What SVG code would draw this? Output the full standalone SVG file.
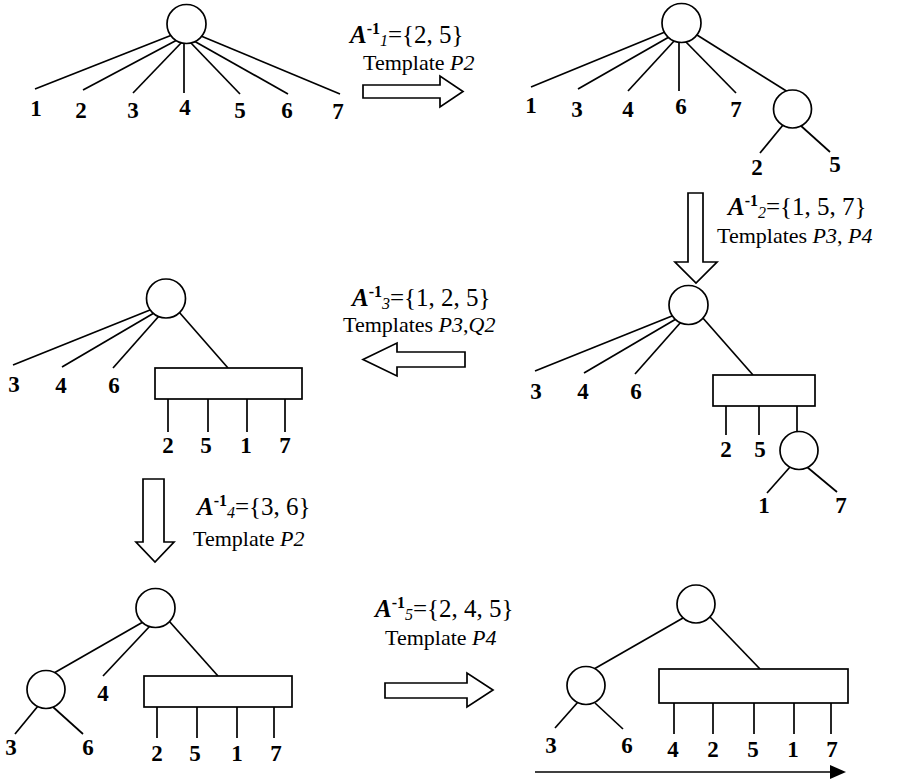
<svg xmlns="http://www.w3.org/2000/svg" width="901" height="781" viewBox="0 0 901 781">
<style>
.n{fill:#fff;stroke:#000;stroke-width:1.7}
.e{stroke:#000;stroke-width:1.7;fill:none}
.d{font-family:"Liberation Serif",serif;font-weight:bold;font-size:23px;text-anchor:middle;fill:#000}
.t{font-family:"Liberation Serif",serif;font-size:22px;fill:#000}
.q{font-family:"Liberation Serif",serif;font-size:25px;fill:#000}
.bi{font-weight:bold;font-style:italic}
.sp{font-weight:bold;font-size:16px}
.sb{font-style:italic;font-size:16px}
.i{font-style:italic}
.ar{fill:#fff;stroke:#000;stroke-width:1.7}
</style>
<rect width="901" height="781" fill="#fff"/>
<g id="connectors">
<line class="e" x1="172" y1="35" x2="35" y2="89"/>
<line class="e" x1="177" y1="40" x2="83" y2="90"/>
<line class="e" x1="182" y1="42" x2="133" y2="93"/>
<line class="e" x1="184" y1="42" x2="184" y2="93"/>
<line class="e" x1="190" y1="42" x2="240" y2="94"/>
<line class="e" x1="194" y1="41" x2="288" y2="94"/>
<line class="e" x1="201" y1="36" x2="340" y2="94"/>
<line class="e" x1="665" y1="32" x2="531" y2="87"/>
<line class="e" x1="669" y1="37" x2="578" y2="89"/>
<line class="e" x1="675" y1="40" x2="628" y2="91"/>
<line class="e" x1="679" y1="41" x2="679" y2="91"/>
<line class="e" x1="685" y1="41" x2="736" y2="93"/>
<line class="e" x1="697" y1="35" x2="788" y2="92"/>
<line class="e" x1="783" y1="125" x2="760" y2="153"/>
<line class="e" x1="800" y1="125" x2="830" y2="152"/>
<line class="e" x1="150" y1="310" x2="13" y2="365"/>
<line class="e" x1="154" y1="313" x2="62" y2="367"/>
<line class="e" x1="159" y1="316" x2="113" y2="368"/>
<line class="e" x1="179" y1="312" x2="228" y2="368"/>
<line class="e" x1="168" y1="399" x2="168" y2="432"/>
<line class="e" x1="208" y1="399" x2="208" y2="432"/>
<line class="e" x1="247" y1="399" x2="247" y2="432"/>
<line class="e" x1="285" y1="399" x2="285" y2="432"/>
<line class="e" x1="672" y1="316" x2="535" y2="371"/>
<line class="e" x1="676" y1="319" x2="584" y2="373"/>
<line class="e" x1="681" y1="322" x2="635" y2="374"/>
<line class="e" x1="702" y1="317" x2="753" y2="375"/>
<line class="e" x1="726" y1="406" x2="726" y2="435"/>
<line class="e" x1="759" y1="406" x2="759" y2="435"/>
<line class="e" x1="797" y1="406" x2="797" y2="434"/>
<line class="e" x1="790" y1="467" x2="767" y2="493"/>
<line class="e" x1="807" y1="467" x2="837" y2="492"/>
<line class="e" x1="143" y1="622" x2="54" y2="673"/>
<line class="e" x1="150" y1="626" x2="103" y2="676"/>
<line class="e" x1="169" y1="621" x2="218" y2="676"/>
<line class="e" x1="157" y1="707" x2="157" y2="738"/>
<line class="e" x1="197" y1="707" x2="197" y2="738"/>
<line class="e" x1="237" y1="707" x2="237" y2="738"/>
<line class="e" x1="274" y1="707" x2="274" y2="738"/>
<line class="e" x1="38" y1="706" x2="15" y2="734"/>
<line class="e" x1="53" y1="707" x2="83" y2="734"/>
<line class="e" x1="683" y1="618" x2="594" y2="669"/>
<line class="e" x1="710" y1="617" x2="760" y2="669"/>
<line class="e" x1="674" y1="703" x2="674" y2="734"/>
<line class="e" x1="713" y1="703" x2="713" y2="734"/>
<line class="e" x1="754" y1="703" x2="754" y2="734"/>
<line class="e" x1="794" y1="703" x2="794" y2="734"/>
<line class="e" x1="831" y1="703" x2="831" y2="734"/>
<line class="e" x1="578" y1="702" x2="555" y2="728"/>
<line class="e" x1="595" y1="703" x2="623" y2="729"/>
<line class="e" x1="535" y1="772" x2="832" y2="772"/>
<polygon points="830,765 846,772 830,779" fill="#000"/>
</g>
<g id="arrow1"><polygon class="ar" points="363,85 440,85 440,76 463,91.5 440,107 440,98 363,98"/></g>
<g id="arrow2"><polygon class="ar" points="688,193 703,193 703,262 717,262 696,283 675,262 688,262"/></g>
<g id="arrow3"><polygon class="ar" points="465,352 397,352 397,343 363,359.5 397,376 397,367 465,367"/></g>
<g id="arrow4"><polygon class="ar" points="143,479 164,479 164,542 174,542 155,562 136,542 143,542"/></g>
<g id="arrow5"><polygon class="ar" points="385,683 467,683 467,673 493,690 467,707 467,698 385,698"/></g>
<g id="p1-root"><circle class="n" cx="186.5" cy="24" r="19.5"/></g>
<g id="p2-root"><circle class="n" cx="681.5" cy="23" r="19.5"/></g>
<g id="p2-c"><circle class="n" cx="792.5" cy="109" r="19"/></g>
<g id="p3l-root"><circle class="n" cx="166" cy="298.5" r="19.5"/></g>
<g id="p3l-box"><rect class="n" x="155" y="368" width="147" height="31"/></g>
<g id="p3r-root"><circle class="n" cx="688.5" cy="305" r="19.5"/></g>
<g id="p3r-box"><rect class="n" x="713" y="375" width="102" height="31"/></g>
<g id="p3r-c"><circle class="n" cx="799" cy="450.5" r="19"/></g>
<g id="p4-root"><circle class="n" cx="155.5" cy="608" r="19.5"/></g>
<g id="p4-c"><circle class="n" cx="46" cy="689.5" r="19"/></g>
<g id="p4-box"><rect class="n" x="144" y="676" width="148" height="31"/></g>
<g id="p5-root"><circle class="n" cx="696" cy="604" r="19"/></g>
<g id="p5-c"><circle class="n" cx="586" cy="685.5" r="19"/></g>
<g id="p5-box"><rect class="n" x="659" y="669" width="189" height="34"/></g>
<g id="labels">
<text class="d" x="36" y="116">1</text>
<text class="d" x="81" y="118">2</text>
<text class="d" x="133" y="118">3</text>
<text class="d" x="185" y="115">4</text>
<text class="d" x="240" y="118">5</text>
<text class="d" x="287" y="118">6</text>
<text class="d" x="338" y="119">7</text>
<text class="d" x="531" y="113">1</text>
<text class="d" x="577" y="117">3</text>
<text class="d" x="628" y="117">4</text>
<text class="d" x="681" y="114">6</text>
<text class="d" x="736" y="117">7</text>
<text class="d" x="757" y="175">2</text>
<text class="d" x="835" y="172">5</text>
<text class="d" x="14" y="392">3</text>
<text class="d" x="61" y="393">4</text>
<text class="d" x="114" y="393">6</text>
<text class="d" x="168" y="453">2</text>
<text class="d" x="206" y="453">5</text>
<text class="d" x="246" y="453">1</text>
<text class="d" x="285" y="453">7</text>
<text class="d" x="536" y="399">3</text>
<text class="d" x="583" y="399">4</text>
<text class="d" x="636" y="399">6</text>
<text class="d" x="726" y="457">2</text>
<text class="d" x="760" y="457">5</text>
<text class="d" x="764" y="513">1</text>
<text class="d" x="841" y="513">7</text>
<text class="d" x="103" y="701">4</text>
<text class="d" x="11" y="755">3</text>
<text class="d" x="88" y="755">6</text>
<text class="d" x="157" y="761">2</text>
<text class="d" x="195" y="761">5</text>
<text class="d" x="237" y="761">1</text>
<text class="d" x="276" y="761">7</text>
<text class="d" x="551" y="753">3</text>
<text class="d" x="627" y="753">6</text>
<text class="d" x="673" y="757">4</text>
<text class="d" x="713" y="757">2</text>
<text class="d" x="753" y="757">5</text>
<text class="d" x="793" y="757">1</text>
<text class="d" x="832" y="757">7</text>
</g>
<g id="cap1">
<text class="q" x="350" y="43"><tspan class="bi">A</tspan><tspan class="sp" dy="-9">-1</tspan><tspan class="sb" dy="12">1</tspan><tspan dy="-3">={2, 5}</tspan></text>
<text class="t" x="363" y="70">Template <tspan class="i">P2</tspan></text>
</g>
<g id="cap2">
<text class="q" x="728" y="215"><tspan class="bi">A</tspan><tspan class="sp" dy="-9">-1</tspan><tspan class="sb" dy="12">2</tspan><tspan dy="-3">={1, 5, 7}</tspan></text>
<text class="t" x="717" y="243" font-size="24">Templates <tspan class="i">P3</tspan>, <tspan class="i">P4</tspan></text>
</g>
<g id="cap3">
<text class="q" x="352" y="306"><tspan class="bi">A</tspan><tspan class="sp" dy="-9">-1</tspan><tspan class="sb" dy="12">3</tspan><tspan dy="-3">={1, 2, 5}</tspan></text>
<text class="t" x="343" y="332" font-size="24">Templates <tspan class="i">P3</tspan>,<tspan class="i">Q2</tspan></text>
</g>
<g id="cap4">
<text class="q" x="197" y="515"><tspan class="bi">A</tspan><tspan class="sp" dy="-9">-1</tspan><tspan class="sb" dy="12">4</tspan><tspan dy="-3">={3, 6}</tspan></text>
<text class="t" x="193" y="546" font-size="25">Template <tspan class="i">P2</tspan></text>
</g>
<g id="cap5">
<text class="q" x="375" y="617"><tspan class="bi">A</tspan><tspan class="sp" dy="-9">-1</tspan><tspan class="sb" dy="12">5</tspan><tspan dy="-3">={2, 4, 5}</tspan></text>
<text class="t" x="385" y="645">Template <tspan class="i">P4</tspan></text>
</g>
</svg>
